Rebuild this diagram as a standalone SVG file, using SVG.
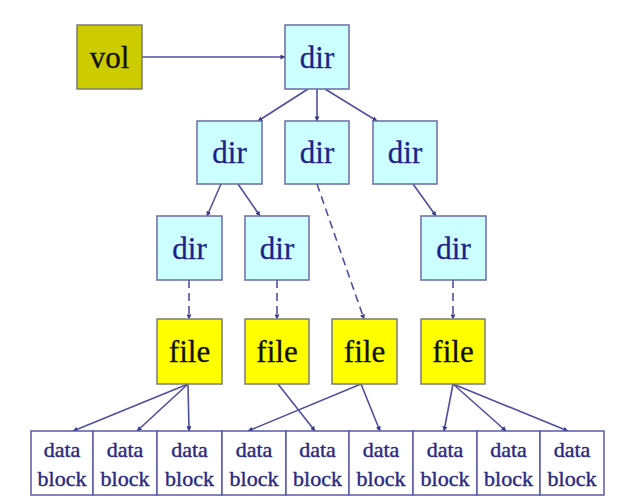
<svg xmlns="http://www.w3.org/2000/svg" width="637" height="501" viewBox="0 0 637 501">
<defs>
<marker id="ah" viewBox="0 0 6 6" refX="5.5" refY="3" markerWidth="5" markerHeight="5" orient="auto" markerUnits="userSpaceOnUse">
<path d="M0,0 L6,3 L0,6 z" fill="#3a3a8c"/>
</marker>
<style>
.dir rect{fill:#ccffff;stroke:#6b6ba8;stroke-width:1.5}
.file rect{fill:#ffff00;stroke:#7a7a7a;stroke-width:1.5}
.vol rect{fill:#cccc00;stroke:#7a7a7a;stroke-width:1.5}
.blk rect{fill:#ffffff;stroke:#5a5aa8;stroke-width:1.5}
text{font-family:"Liberation Serif","Times New Roman",serif;text-anchor:middle}
.dir text{fill:#1f1f8a;font-size:31px;stroke:#1f1f8a;stroke-width:0.3}
.file text,.vol text{fill:#111111;font-size:31px;stroke:#111111;stroke-width:0.3}
.blk text{fill:#2a2a80;font-size:22px;stroke:#2a2a80;stroke-width:0.4}
.c line{stroke:#4f4fa0;stroke-width:1.6;fill:none;marker-end:url(#ah)}
.c line.d{stroke-dasharray:8,5}
</style>
</defs>
<rect width="637" height="501" fill="#ffffff"/>
<g id="connectors" class="c">
<line x1="142" y1="57" x2="285" y2="57"/>
<line x1="308" y1="89" x2="258" y2="121"/>
<line x1="317" y1="89" x2="317" y2="121"/>
<line x1="325" y1="89" x2="377" y2="121"/>
<line x1="221" y1="184" x2="207" y2="216"/>
<line x1="238" y1="184" x2="260" y2="216"/>
<line x1="413" y1="184" x2="436" y2="216"/>
<line class="d" x1="317" y1="184" x2="364" y2="319"/>
<line class="d" x1="189" y1="280" x2="189" y2="319"/>
<line class="d" x1="277" y1="280" x2="277" y2="319"/>
<line class="d" x1="453" y1="280" x2="453" y2="319"/>
<line x1="188" y1="384" x2="73" y2="431"/>
<line x1="188" y1="384" x2="137" y2="431"/>
<line x1="188" y1="384" x2="189" y2="431"/>
<line x1="278" y1="384" x2="315" y2="431"/>
<line x1="361" y1="384" x2="248" y2="431"/>
<line x1="361" y1="384" x2="380" y2="431"/>
<line x1="453" y1="384" x2="444" y2="431"/>
<line x1="453" y1="384" x2="506" y2="431"/>
<line x1="453" y1="384" x2="568" y2="431"/>
</g>
<g id="vol" class="vol"><rect x="77" y="25" width="65" height="64"/><text x="109.5" y="68">vol</text></g>
<g id="dir0" class="dir"><rect x="285" y="25" width="64" height="64"/><text x="317" y="68">dir</text></g>
<g id="dir1" class="dir"><rect x="197" y="121" width="65" height="63"/><text x="229.5" y="163">dir</text></g>
<g id="dir2" class="dir"><rect x="285" y="121" width="64" height="63"/><text x="317" y="163">dir</text></g>
<g id="dir3" class="dir"><rect x="373" y="121" width="64" height="63"/><text x="405" y="163">dir</text></g>
<g id="dir4" class="dir"><rect x="157" y="216" width="65" height="64"/><text x="189.5" y="259">dir</text></g>
<g id="dir5" class="dir"><rect x="245" y="216" width="64" height="64"/><text x="277" y="259">dir</text></g>
<g id="dir6" class="dir"><rect x="421" y="216" width="65" height="64"/><text x="453.5" y="259">dir</text></g>
<g id="file1" class="file"><rect x="157" y="319" width="65" height="65"/><text x="189.5" y="362">file</text></g>
<g id="file2" class="file"><rect x="245" y="319" width="64" height="65"/><text x="277" y="362">file</text></g>
<g id="file3" class="file"><rect x="332" y="319" width="65" height="65"/><text x="364.5" y="362">file</text></g>
<g id="file4" class="file"><rect x="421" y="319" width="64" height="65"/><text x="453" y="362">file</text></g>
<g id="blk1" class="blk"><rect x="31" y="431" width="62" height="64"/><text x="62" y="457">data</text><text x="62" y="486">block</text></g>
<g id="blk2" class="blk"><rect x="93" y="431" width="64" height="64"/><text x="125" y="457">data</text><text x="125" y="486">block</text></g>
<g id="blk3" class="blk"><rect x="157" y="431" width="65" height="64"/><text x="189.5" y="457">data</text><text x="189.5" y="486">block</text></g>
<g id="blk4" class="blk"><rect x="222" y="431" width="64" height="64"/><text x="254" y="457">data</text><text x="254" y="486">block</text></g>
<g id="blk5" class="blk"><rect x="286" y="431" width="63" height="64"/><text x="317.5" y="457">data</text><text x="317.5" y="486">block</text></g>
<g id="blk6" class="blk"><rect x="349" y="431" width="64" height="64"/><text x="381" y="457">data</text><text x="381" y="486">block</text></g>
<g id="blk7" class="blk"><rect x="413" y="431" width="64" height="64"/><text x="445" y="457">data</text><text x="445" y="486">block</text></g>
<g id="blk8" class="blk"><rect x="477" y="431" width="63" height="64"/><text x="508.5" y="457">data</text><text x="508.5" y="486">block</text></g>
<g id="blk9" class="blk"><rect x="540" y="431" width="64" height="64"/><text x="572" y="457">data</text><text x="572" y="486">block</text></g>
</svg>
